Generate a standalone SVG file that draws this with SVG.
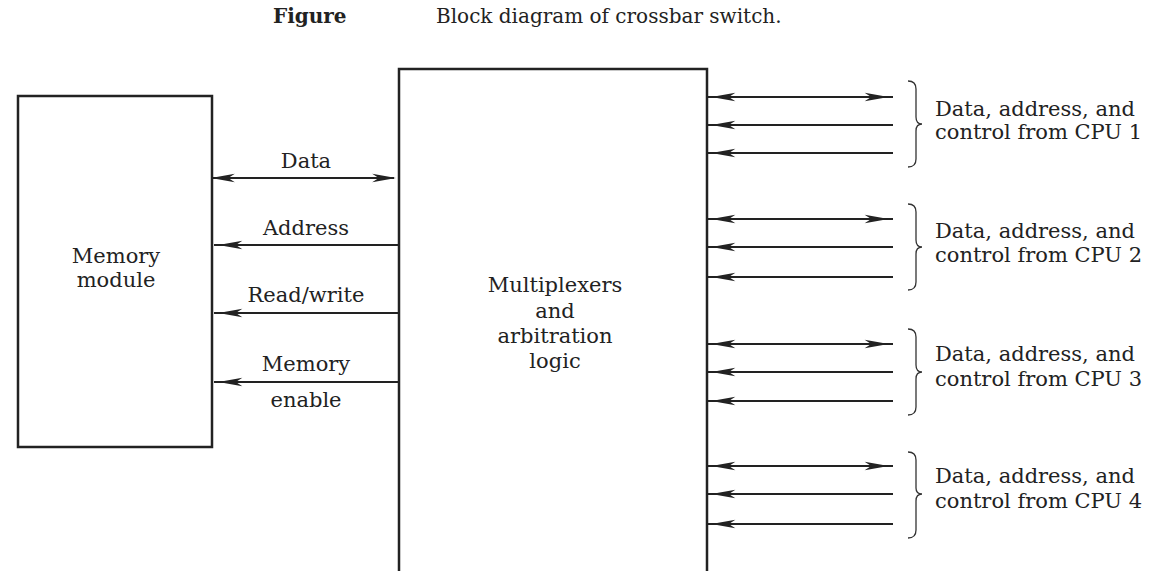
<svg xmlns="http://www.w3.org/2000/svg" width="1155" height="571" viewBox="0 0 1155 571">
<style>
.t{font-family:"DejaVu Serif","Liberation Serif",serif;font-size:21px;fill:#222}
.ti{font-family:"DejaVu Serif","Liberation Serif",serif;font-size:20px;fill:#222}
.box{fill:none;stroke:#222;stroke-width:2.5}
.ln{stroke:#222;stroke-width:2;fill:none}
.br{stroke:#333;stroke-width:1.3;fill:none}
</style>
<defs>
<marker id="ah" markerUnits="userSpaceOnUse" markerWidth="24" markerHeight="10" viewBox="0 0 22 8" refX="20" refY="4" orient="auto-start-reverse">
<path d="M0,0 L22,4 L0,8 L6,4 z" fill="#222"/>
</marker>
<marker id="ahi" markerUnits="userSpaceOnUse" markerWidth="24" markerHeight="10" viewBox="0 0 22 8" refX="26" refY="4" orient="auto-start-reverse" overflow="visible">
<path d="M0,0 L22,4 L0,8 L6,4 z" fill="#222"/>
</marker>
</defs>
<rect width="1155" height="571" fill="#fff"/>
<g id="title">
<text class="ti" x="273" y="23" font-weight="bold">Figure</text>
<text class="ti" x="436" y="23">Block diagram of crossbar switch.</text>
</g>
<g id="memory">
<rect class="box" x="18" y="96" width="194" height="351"/>
<text class="t" x="116" y="263" text-anchor="middle">Memory</text>
<text class="t" x="116" y="287" text-anchor="middle">module</text>
</g>
<g id="mux">
<path class="box" d="M399,571 V69 H707 V571"/>
<text class="t" x="555" y="292" text-anchor="middle">Multiplexers</text>
<text class="t" x="555" y="318" text-anchor="middle">and</text>
<text class="t" x="555" y="343" text-anchor="middle">arbitration</text>
<text class="t" x="555" y="368" text-anchor="middle">logic</text>
</g>
<g id="connectors">
<line class="ln" x1="213" y1="178" x2="394" y2="178" marker-start="url(#ah)" marker-end="url(#ah)"/>
<line class="ln" x1="399" y1="245" x2="214" y2="245" marker-end="url(#ahi)"/>
<line class="ln" x1="399" y1="313" x2="214" y2="313" marker-end="url(#ahi)"/>
<line class="ln" x1="399" y1="382" x2="214" y2="382" marker-end="url(#ahi)"/>
<line class="ln" x1="707" y1="97" x2="893" y2="97" marker-start="url(#ahi)" marker-end="url(#ahi)"/>
<line class="ln" x1="893" y1="125" x2="707" y2="125" marker-end="url(#ahi)"/>
<line class="ln" x1="893" y1="153" x2="707" y2="153" marker-end="url(#ahi)"/>
<line class="ln" x1="707" y1="219" x2="893" y2="219" marker-start="url(#ahi)" marker-end="url(#ahi)"/>
<line class="ln" x1="893" y1="247" x2="707" y2="247" marker-end="url(#ahi)"/>
<line class="ln" x1="893" y1="277" x2="707" y2="277" marker-end="url(#ahi)"/>
<line class="ln" x1="707" y1="344" x2="893" y2="344" marker-start="url(#ahi)" marker-end="url(#ahi)"/>
<line class="ln" x1="893" y1="372" x2="707" y2="372" marker-end="url(#ahi)"/>
<line class="ln" x1="893" y1="401" x2="707" y2="401" marker-end="url(#ahi)"/>
<line class="ln" x1="707" y1="466" x2="893" y2="466" marker-start="url(#ahi)" marker-end="url(#ahi)"/>
<line class="ln" x1="893" y1="494" x2="707" y2="494" marker-end="url(#ahi)"/>
<line class="ln" x1="893" y1="524" x2="707" y2="524" marker-end="url(#ahi)"/>
</g>
<g id="labels-left">
<text class="t" x="306" y="168" text-anchor="middle">Data</text>
<text class="t" x="306" y="235" text-anchor="middle">Address</text>
<text class="t" x="306" y="302" text-anchor="middle">Read/write</text>
<text class="t" x="306" y="371" text-anchor="middle">Memory</text>
<text class="t" x="306" y="407" text-anchor="middle">enable</text>
</g>
<g id="cpu1">
<path class="br" d="M908,81 Q916,81 916,89 V117 Q916,124 922,124 Q916,124 916,131 V159 Q916,167 908,167"/>
<text class="t" x="935" y="116">Data, address, and</text>
<text class="t" x="935" y="139">control from CPU 1</text>
</g>
<g id="cpu2">
<path class="br" d="M908,204 Q916,204 916,212 V240 Q916,247 922,247 Q916,247 916,254 V282 Q916,290 908,290"/>
<text class="t" x="935" y="238">Data, address, and</text>
<text class="t" x="935" y="262">control from CPU 2</text>
</g>
<g id="cpu3">
<path class="br" d="M908,329 Q916,329 916,337 V365 Q916,372 922,372 Q916,372 916,379 V407 Q916,415 908,415"/>
<text class="t" x="935" y="361">Data, address, and</text>
<text class="t" x="935" y="386">control from CPU 3</text>
</g>
<g id="cpu4">
<path class="br" d="M908,452 Q916,452 916,460 V488 Q916,494 922,494 Q916,494 916,501 V530 Q916,538 908,538"/>
<text class="t" x="935" y="483">Data, address, and</text>
<text class="t" x="935" y="508">control from CPU 4</text>
</g>
</svg>
